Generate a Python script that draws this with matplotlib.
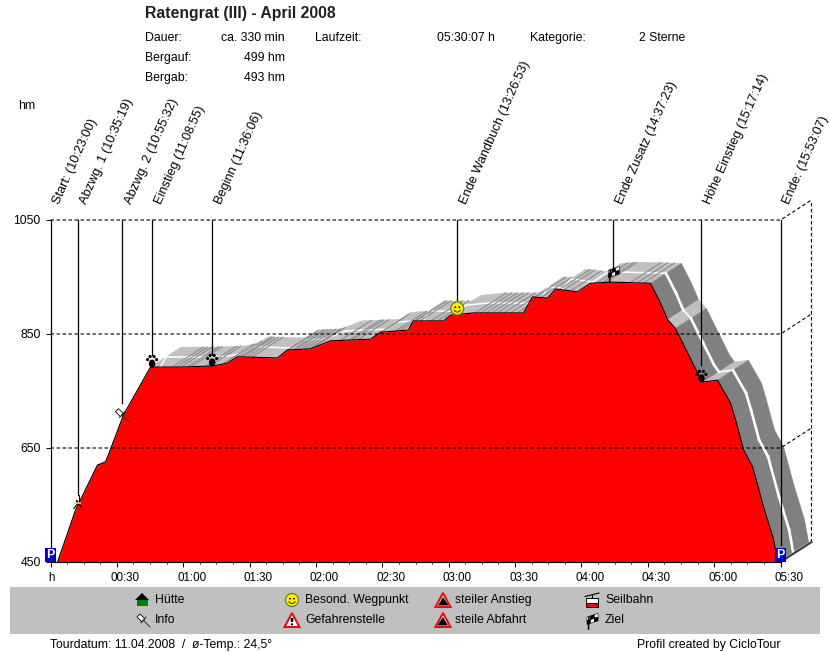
import numpy as np
import matplotlib
matplotlib.use("Agg")
import matplotlib.pyplot as plt
from matplotlib.patches import Circle, Ellipse, Polygon, Rectangle, Arc
from matplotlib.transforms import ScaledTranslation

plt.rcParams['font.family'] = ['Liberation Sans', 'DejaVu Sans']

# elevation profile (minutes, hm)
profile_t = [3.2, 11.3, 21.2, 24.9, 33, 45.2, 58.8, 73.7, 80, 84.5, 102.6, 107.1, 117.5, 126.6, 144.7, 149.2, 161.8, 164, 177.7, 180.8, 191.2, 213.8, 217.9, 224.7, 228.3, 238.2, 244.1, 253.2, 271.2, 275.8, 279, 282.5, 288, 293, 295.2, 301.5, 307.4, 309.7, 313.3, 317.4, 322.3, 326.9, 328.7]
profile_h = [450, 541, 620, 625, 708, 792, 792, 794, 799, 810, 808, 822, 824, 838, 841, 853, 857, 873, 873, 883, 887, 887, 915, 913, 929, 924, 939, 941, 939, 904, 875, 860, 817, 778, 766, 769, 729, 699, 647, 617, 547, 489, 450]

# dark streaks on the flat part of the ribbon (minutes)
streak_t = [55, 57, 59, 62, 63.5, 70, 72, 78, 81.5, 86, 87, 89, 91, 105, 107, 109.5, 111, 113, 115, 117, 119, 131, 135, 136.5, 139, 145.5, 148, 156, 158, 165, 167, 172, 175, 192, 194.5, 197, 199.5, 202, 205, 208, 211, 219, 221.5, 230, 232, 235, 247, 249.5, 251, 262, 265, 268]

y_ticks = [450, 650, 850, 1050]
x_major = [0, 30, 60, 90, 120, 150, 180, 210, 240, 270, 300, 330]
x_labels = ["h", "00:30", "01:00", "01:30", "02:00", "02:30", "03:00", "03:30", "04:00", "04:30", "05:00", "05:30"]

way_names = ["Start:", "Abzwg. 1", "Abzwg. 2", "Einstieg", "Beginn", "Ende Wandbuch", "Ende Zusatz", "Höhe Einstieg", "Ende:"]
way_clock = ["10:23:00", "10:35:19", "10:55:32", "11:08:55", "11:36:06", "13:26:53", "14:37:23", "15:17:14", "15:53:07"]
way_line_end = [450, 568, 729, 813, 813, 910, 966, 796, 480]

W, H = 830, 652
fig = plt.figure(figsize=(W / 100, H / 100), dpi=100)
ax = fig.add_axes([50.5 / W, 1 - 562 / H, 730 / W, 342 / H])
ax.set_xlim(0, 330)
ax.set_ylim(450, 1050)
for s in ax.spines.values():
    s.set_visible(False)

# overlay in pixel coordinates for header, legend and icons
ov = fig.add_axes([0, 0, 1, 1], zorder=5)
ov.set_xlim(0, W)
ov.set_ylim(H, 0)
ov.axis("off")
ov.patch.set_alpha(0)

depth_t, depth_h = 14, 35
t = np.array(profile_t)
h = np.array(profile_h)

# ribbon behind the profile, one quad per stretch
for i in range(len(t) - 1):
    slope = (h[i] - h[i + 1]) / (t[i + 1] - t[i])
    steep = slope > 4.5
    col = "#808080" if steep else "#c0c0c0"
    ax.fill([t[i], t[i + 1], t[i + 1] + depth_t, t[i] + depth_t],
            [h[i], h[i + 1], h[i + 1] + depth_h, h[i] + depth_h],
            color=col, lw=0.3, clip_on=False, zorder=1)
    ax.plot([t[i] + depth_t / 2, t[i + 1] + depth_t / 2],
            [h[i] + depth_h / 2, h[i + 1] + depth_h / 2],
            color="white", lw=1.9 if steep else 1.1, clip_on=False, zorder=1.1)

for st in streak_t:
    base = np.interp(st, t, h)
    ax.plot([st, st + depth_t], [base, base + depth_h], color="#8c8c8c", lw=0.8,
            clip_on=False, zorder=1.2)

ax.fill_between(t, 450, h, color="#ff0000", lw=0, zorder=2)
ax.plot(t, h, color="black", lw=0.8, zorder=2.5, clip_on=False)

# dashed levels and the box going backwards
ax.set_yticks(y_ticks)
ax.set_xticks(x_major)
ax.set_xticklabels(x_labels, ha="left")
ax.set_xticks(np.arange(0, 331, 7.5), minor=True)
ax.tick_params(axis="y", length=3.6, width=0.7, pad=3.5, labelsize=8.8)
ax.tick_params(axis="x", which="major", length=3.6, width=0.7, pad=3.5, labelsize=8.4)
ax.tick_params(axis="x", which="minor", length=1.6, width=0.6)
for lab, val in zip(ax.get_xticklabels(), x_major):
    dx = -2 if val == 0 else -6
    lab.set_transform(lab.get_transform() + ScaledTranslation(dx / 100, 0, fig.dpi_scale_trans))
for lev in y_ticks[1:]:
    ax.plot([0, 330, 330 + depth_t], [lev, lev, lev + depth_h], color="black", lw=0.8,
            dashes=(3.2, 2.2), clip_on=False, zorder=3)
ax.plot([330 + depth_t] * 2, [450 + depth_h, 1050 + depth_h], color="black", lw=0.8,
        dashes=(3.2, 2.2), clip_on=False, zorder=3)
ax.plot([330, 330 + depth_t], [450, 450 + depth_h], color="#404040", lw=1.6, clip_on=False, zorder=3)
ax.plot([0, 330], [450, 450], color="black", lw=0.8, clip_on=False, zorder=3)


def to_min(clock):
    hh, mm, ss = clock.split(":")
    return (int(hh) - 10) * 60 + int(mm) - 23 + int(ss) / 60


way_t = [to_min(c) for c in way_clock]
for name, clock, wt, end in zip(way_names, way_clock, way_t, way_line_end):
    ax.plot([wt, wt], [1050, end], color="black", lw=0.9, clip_on=False, zorder=3.5)
    ax.annotate(f"{name} ({clock})", xy=(wt, 1050), xytext=(4.5, 12), textcoords="offset points",
                rotation=66, rotation_mode="anchor", ha="left", va="center", fontsize=9.2,
                annotation_clip=False)


def px(wt, val):
    p = ax.transData.transform((wt, val))
    return ov.transData.inverted().transform(p)


def paw(x, y):
    ov.add_patch(Ellipse((x, y + 2.5), 6.5, 8, color="black", lw=0))
    for dx, dy in [(-4.5, -1.5), (-2, -4.5), (2, -4.5), (4.5, -1.5)]:
        ov.add_patch(Circle((x + dx, y + dy), 1.6, color="black", lw=0))


def pin(x, y):
    ov.add_patch(Polygon([(x - 6, y - 3), (x - 3, y - 6), (x + 2, y - 1), (x - 1, y + 2)],
                         fc="white", ec="black", lw=0.6))
    ov.plot([x, x + 7], [y, y + 7], color="#303030", lw=0.7)
    ov.plot([x + 3, x - 2], [y - 3, y + 3], color="#303030", lw=0.7)


def smiley(x, y, r=6.5):
    ov.add_patch(Circle((x, y), r, fc="#ffee00", ec="#6a6a20", lw=0.8))
    ov.add_patch(Circle((x - 2, y - 1.3), 0.9, color="black", lw=0))
    ov.add_patch(Circle((x + 2, y - 1.3), 0.9, color="black", lw=0))
    ov.add_patch(Arc((x, y), 7, 7, theta1=20, theta2=160, color="#303000", lw=0.7))


def flag(x, y):
    ov.plot([x - 3, x - 3.5], [y - 3, y + 9], color="black", lw=1.1)
    for i in range(3):
        for j in range(2):
            x0 = x - 5 + i * 3.7
            y0 = y - 3 + j * 3.7 - i * 1.2
            col = "black" if (i + j) % 2 else "white"
            ov.add_patch(Polygon([(x0, y0), (x0 + 3.7, y0 - 1.2), (x0 + 3.7, y0 + 2.5), (x0, y0 + 3.7)],
                                 fc=col, ec="black", lw=0.4))


def runner(x, y):
    ov.plot([x - 4, x + 1, x - 1.5, x + 4], [y + 6, y, y - 2, y + 5], color="black", lw=0.8)
    ov.plot([x - 3, x + 2], [y, y], color="#e8e040", lw=1.2)
    ov.plot([x + 1, x + 1], [y - 2, y - 8], color="black", lw=0.8)


def p_box(x, y):
    ov.add_patch(Rectangle((x - 5.5, y - 7), 11, 14, color="#0000c8", lw=0))
    ov.text(x, y, "P", color="white", fontsize=9, fontweight="bold", ha="center", va="center")


def warn(x, y, inner):
    ov.add_patch(Polygon([(x, y - 7), (x + 7.5, y + 7), (x - 7.5, y + 7)], fc="white", ec="#e01010", lw=1.5))
    if inner == "gefahr":
        ov.add_patch(Polygon([(x - 1.5, y - 2), (x + 1.5, y - 2), (x + 1, y + 2), (x - 1, y + 2)], color="black", lw=0))
        ov.add_patch(Circle((x, y + 4.3), 1.1, color="black", lw=0))
    elif inner == "auf":
        ov.add_patch(Polygon([(x - 5, y + 5.5), (x + 5, y + 5.5), (x + 5, y + 4.5), (x, y - 3)], color="black", lw=0))
    else:
        ov.add_patch(Polygon([(x - 5, y + 5.5), (x + 5, y + 5.5), (x, y - 3), (x - 5, y + 4.5)], color="black", lw=0))


def house(x, y):
    ov.add_patch(Rectangle((x - 5.5, y - 1), 11, 7, color="#008000", lw=0))
    ov.add_patch(Polygon([(x - 7, y), (x, y - 7), (x + 7, y)], color="black", lw=0))


def gondola(x, y):
    ov.plot([x - 7, x + 7], [y - 3.5, y - 7], color="black", lw=0.8)
    ov.plot([x, x], [y - 5, y - 2], color="black", lw=0.8)
    ov.add_patch(Rectangle((x - 6, y - 2), 12, 5, fc="white", ec="black", lw=0.7))
    ov.add_patch(Rectangle((x - 6, y + 3), 12, 4, fc="#e01010", ec="black", lw=0.7))


# route markers on the line ends
for wt, fn, off in [(way_t[3], paw, -6), (way_t[4], paw, -6), (way_t[7], paw, -3)]:
    x, y = px(wt, np.interp(wt, t, h))
    fn(x, y + off)
x, y = px(way_t[1], np.interp(way_t[1], t, h))
runner(x, y - 3)
x, y = px(way_t[2], np.interp(way_t[2], t, h))
pin(x - 1, y - 3)
x, y = px(way_t[5], np.interp(way_t[5], t, h))
smiley(x, y - 6)
x, y = px(way_t[6], np.interp(way_t[6], t, h))
flag(x, y - 9)
for wt in (way_t[0], way_t[-1]):
    x, y = px(wt, 450)
    p_box(x, y - 7)

# header
ov.text(145, 13.5, "Ratengrat (III) - April 2008", fontsize=11.3, fontweight="bold", va="center", color="#202020")
ov.text(18, 106, "hm", fontsize=8.8, va="center")
info_y = [38, 58, 78]
for lab, val, yy in zip(["Dauer:", "Bergauf:", "Bergab:"], ["ca. 330 min", "499 hm", "493 hm"], info_y):
    ov.text(145, yy, lab, fontsize=8.8, va="center")
    ov.text(285, yy, val, fontsize=8.8, va="center", ha="right")
ov.text(315, 38, "Laufzeit:", fontsize=8.8, va="center")
ov.text(495, 38, "05:30:07 h", fontsize=8.8, va="center", ha="right")
ov.text(530, 38, "Kategorie:", fontsize=8.8, va="center")
ov.text(639, 38, "2 Sterne", fontsize=8.8, va="center")

# legend strip
ov.add_patch(Rectangle((10, 587), 810, 47, color="#c0c0c0", lw=0, zorder=0))
legend_rows = [["Hütte", "Besond. Wegpunkt", "steiler Anstieg", "Seilbahn"],
               ["Info", "Gefahrenstelle", "steile Abfahrt", "Ziel"]]
legend_x = [155, 305, 455, 605]
for row, yy in zip(legend_rows, [600, 620]):
    for lab, xx in zip(row, legend_x):
        ov.text(xx, yy, lab, fontsize=8.8, va="center")
house(142, 600)
pin(143, 620)
smiley(292, 600)
warn(292, 620, "gefahr")
warn(443, 600, "auf")
warn(443, 620, "ab")
gondola(592, 600)
flag(592, 620)

ov.text(50, 645, "Tourdatum: 11.04.2008  /  ø-Temp.: 24,5°", fontsize=8.8, va="center")
ov.text(637, 645, "Profil created by CicloTour", fontsize=8.8, va="center")

fig.savefig("out.png", dpi=100)
